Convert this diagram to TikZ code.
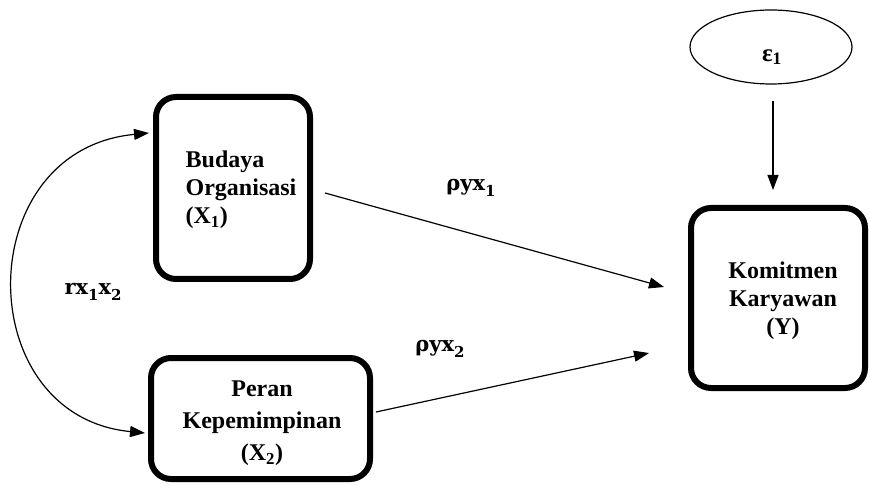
\documentclass[tikz,border=0pt]{standalone}
\usepackage{fontspec}
\setmainfont{Liberation Serif}
\newfontfamily\lblfont{DejaVu Serif}
\usetikzlibrary{arrows.meta,calc,shapes.geometric}
\newcommand{\lsub}[1]{\raisebox{-0.28em}{\fontsize{15}{15}\selectfont #1}}
\begin{document}
\begin{tikzpicture}[x=1pt,y=-1pt,
  box/.style={draw,line width=6pt,rounded corners=20pt,inner sep=0pt},
  txt/.style={font=\fontsize{24}{28}\selectfont\bfseries,inner sep=0pt},
  lbl/.style={font=\lblfont\fontsize{21}{24}\selectfont\bfseries,inner sep=0pt},
  arr/.style={-{Triangle[length=15pt,width=11pt]},line width=1.2pt},
  darr/.style={{Triangle[length=15pt,width=11pt]}-{Triangle[length=15pt,width=11pt]},line width=1.2pt}]
\useasboundingbox (0,0) rectangle (870,486);
% boxes
\node[box,minimum width=154pt,minimum height=182pt] (x1) at (233,188) {};
\node[box,minimum width=219pt,minimum height=121pt] (x2) at (260.5,418.5) {};
\node[box,minimum width=174pt,minimum height=180pt] (y) at (778,298) {};
\node[draw,ellipse,line width=1.2pt,minimum width=162pt,minimum height=74pt,inner sep=0pt] (e) at (771,47) {};
% texts
\node[txt,align=left] (x1t) at ($(x1)+(8,2)$) {Budaya\\Organisasi\\(X\textsubscript{1})};
\node[txt,align=center,font=\fontsize{24}{32}\selectfont\bfseries] (x2t) at ($(x2)+(1.5,4.5)$) {Peran\\Kepemimpinan\\(X\textsubscript{2})};
\node[txt,align=center] (yt) at ($(y)+(5,3)$) {Komitmen\\Karyawan\\(Y)};
\node[txt,font=\fontsize{25}{28}\selectfont\bfseries] (et) at ($(e)+(1,10)$) {ε\textsubscript{1}};
% connectors
\draw[arr] ($(x1.east)+(12,5)$) -- ($(y.west)+(-24,-11)$);
\draw[arr] ($(x2.east)+(3,-6.5)$) -- ($(y.west)+(-39,55)$);
\draw[arr] ($(e.south)+(2,16)$) -- ($(y.north)+(-5,-15)$);
\draw[darr] ($(x1.west)+(-4,-55)$) .. controls (-30,150) and (-30,416) .. ($(x2.west)+(-3,14.5)$);
% labels
\node[lbl] (l1) at (471,188) {ρyx\lsub{1}};
\node[lbl] (l2) at (440,349) {ρyx\lsub{2}};
\node[lbl] (l3) at (93,292) {rx\lsub{1}x\lsub{2}};
\end{tikzpicture}
\end{document}
